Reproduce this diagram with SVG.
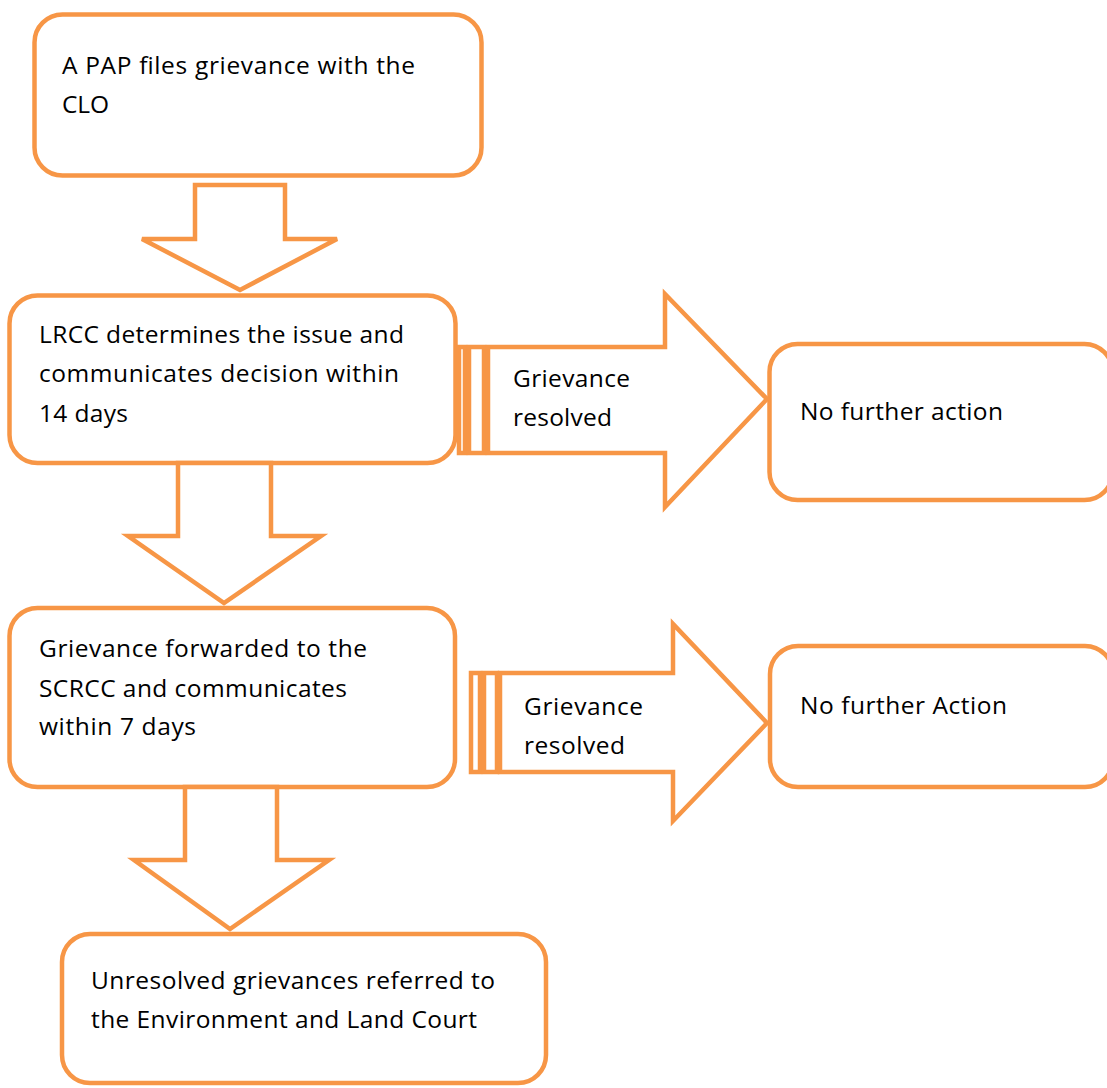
<svg xmlns="http://www.w3.org/2000/svg" width="1107" height="1088" viewBox="0 0 1107 1088">
<style>
.box{fill:#fff;stroke:#F79646;stroke-width:4.5}
.arr{fill:#fff;stroke:#F79646;stroke-width:4.5;stroke-linejoin:miter}
.t{font-family:"Open Sans","Noto Sans","Liberation Sans",sans-serif;font-size:24.5px;fill:#000}
</style>
<rect width="1107" height="1088" fill="#fff"/>
<g id="node-file">
<rect class="box" x="34.5" y="14.5" width="447" height="161" rx="28"/>
<text class="t" x="62" y="74" textLength="353">A PAP files grievance with the</text>
<text class="t" x="62" y="113" textLength="47">CLO</text>
</g>
<g id="node-lrcc">
<rect class="box" x="9.5" y="295.5" width="446" height="167.5" rx="28"/>
<text class="t" x="39" y="343" textLength="365">LRCC determines the issue and</text>
<text class="t" x="39" y="382" textLength="360">communicates decision within</text>
<text class="t" x="39" y="422" textLength="89">14 days</text>
</g>
<g id="node-nfa1">
<rect class="box" x="769.5" y="344" width="343" height="156" rx="28"/>
<text class="t" x="800" y="420" textLength="203">No further action</text>
</g>
<g id="node-scrcc">
<rect class="box" x="9.5" y="608" width="445.5" height="179" rx="28"/>
<text class="t" x="39" y="657" textLength="328">Grievance forwarded to the</text>
<text class="t" x="39" y="697" textLength="308">SCRCC and communicates</text>
<text class="t" x="39" y="735" textLength="157">within 7 days</text>
</g>
<g id="node-nfa2">
<rect class="box" x="770" y="646" width="343" height="141" rx="28"/>
<text class="t" x="800" y="714" textLength="207">No further Action</text>
</g>
<g id="node-court">
<rect class="box" x="62" y="934" width="484" height="149" rx="28"/>
<text class="t" x="91" y="989" textLength="404">Unresolved grievances referred to</text>
<text class="t" x="91" y="1028" textLength="386">the Environment and Land Court</text>
</g>
<g id="connectors">
<path class="arr" d="M195,185 L285,185 L285,239 L337,239 L240,290 L142,239 L195,239 Z"/>
<path class="arr" d="M178,463 L271,463 L271,536 L321,536 L224,603 L128,536 L178,536 Z"/>
<path class="arr" d="M185,787 L277,787 L277,860 L329,860 L230,929 L134,860 L185,860 Z"/>
<g id="right-arrow-1">
<rect class="arr" x="459" y="347" width="6" height="106"/>
<rect class="arr" x="469" y="347" width="15" height="106"/>
<path class="arr" d="M488,347 L665,347 L665,294 L767,399 L665,507 L665,453 L488,453 Z"/>
<text class="t" x="513" y="387" textLength="117">Grievance</text>
<text class="t" x="513" y="426" textLength="99">resolved</text>
</g>
<g id="right-arrow-2">
<rect class="arr" x="471" y="673" width="9" height="99"/>
<rect class="arr" x="484" y="673" width="13" height="99"/>
<path class="arr" d="M500,673 L673,673 L673,624 L767,723 L673,821 L673,772 L500,772 Z"/>
<text class="t" x="524" y="715" textLength="119">Grievance</text>
<text class="t" x="524" y="754" textLength="101">resolved</text>
</g>
</g>
</svg>
